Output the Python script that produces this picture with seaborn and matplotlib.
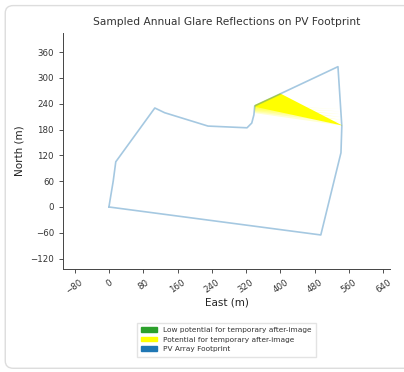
import numpy as np
import matplotlib
matplotlib.use("Agg")
import matplotlib.pyplot as plt
import seaborn as sns
from matplotlib.patches import Patch, FancyBboxPatch

# PV array footprint outline (East, North in metres)
footprint_east = [0, 10, 16, 107, 130, 231, 322, 333, 338, 340, 534, 543, 541, 494, 0]
footprint_north = [0, 60, 105, 230, 219, 188, 184, 195, 214, 235, 326, 188, 126, -65, 0]

# glare reflection zone (yellow) - solid core and faded lower band
glare_east = [340, 399, 545, 340]
glare_north = [237, 264, 189, 233]
fade_east = [340, 340, 545]
fade_north = [218, 235, 189]

xticks = list(range(-80, 641, 80))
yticks = list(range(-120, 361, 60))

legend_labels = ["Low potential for temporary after-image",
                 "Potential for temporary after-image",
                 "PV Array Footprint"]
legend_colors = ["#2ca02c", "#ffff00", "#1f77b4"]

sns.set_style("ticks")
plt.rcParams['font.family'] = ['DejaVu Sans']

fig = plt.figure(figsize=(4.04, 3.72), dpi=100)

# card border
card = FancyBboxPatch((0.013, 0.01), 1.1, 0.975, boxstyle="round,pad=0,rounding_size=0.02",
                      transform=fig.transFigure, facecolor="white", edgecolor="#dddddd",
                      linewidth=1.0, zorder=-10)
fig.patches.append(card)

ax = fig.add_axes([0.156, 0.277, 0.809, 0.634])
ax.set_facecolor("none")

ax.plot(footprint_east, footprint_north, color="#1f77b4", alpha=0.4, linewidth=1.2)
ax.fill(glare_east, glare_north, color="#ffff00", linewidth=0)
for k in range(1, 8):
    ax.fill(fade_east, [n + (235 - n) * (k - 1) / 7 for n in fade_north],
            color="#ffff00", alpha=0.18, linewidth=0)

ax.set_xlim(-107, 655)
ax.set_ylim(-144, 404)
ax.set_xticks(xticks)
ax.set_yticks(yticks)
ax.tick_params(axis='both', labelsize=6.2, colors="#333333", length=3, width=0.6)
plt.setp(ax.get_xticklabels(), rotation=35, ha="center")
for s in ["left", "bottom"]:
    ax.spines[s].set_color("#444444")
    ax.spines[s].set_linewidth(0.7)
sns.despine(ax=ax)

ax.set_title("Sampled Annual Glare Reflections on PV Footprint", fontsize=7.7,
             color="#333333", pad=6)
ax.set_xlabel("East (m)", fontsize=7.5, color="#222222", labelpad=1)
ax.set_ylabel("North (m)", fontsize=7.5, color="#222222", labelpad=4)

handles = [Patch(facecolor=c, edgecolor=c) for c in legend_colors]
fig.legend(handles, legend_labels, loc="center", bbox_to_anchor=(0.56, 0.087),
           fontsize=5.3, frameon=True, fancybox=False, edgecolor="#dddddd",
           handlelength=2.2, handleheight=0.6, labelspacing=0.5, borderpad=0.6,
           labelcolor="#333333")

fig.savefig("out.png", dpi=100)
